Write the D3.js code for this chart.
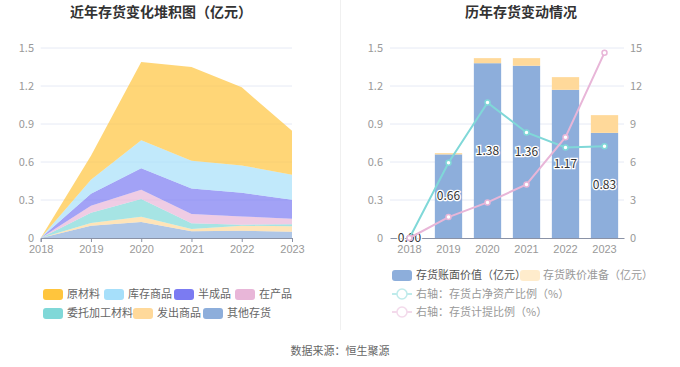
<!DOCTYPE html>
<html><head><meta charset="utf-8">
<script src="https://cdn.jsdelivr.net/npm/d3@7"></script>
<style>body{margin:0;background:#fff;}svg{display:block;font-family:"Noto Sans CJK SC","Noto Sans",sans-serif;}</style>
</head><body><svg id="c" width="680" height="367"></svg>
<script>
const years = ["2018","2019","2020","2021","2022","2023"];
const stackKeys = ["其他存货","发出商品","委托加工材料","在产品","半成品","库存商品","原材料"];
const otherInv   = [0, 0.097, 0.126, 0.053, 0.058, 0.050];
const shipped    = [0, 0.021, 0.042, 0.018, 0.039, 0.042];
const consigned  = [0, 0.082, 0.139, 0.045, 0.008, 0.016];
const wip        = [0, 0.055, 0.073, 0.074, 0.065, 0.044];
const semi       = [0, 0.095, 0.170, 0.200, 0.187, 0.150];
const goods      = [0, 0.110, 0.222, 0.220, 0.216, 0.198];
const raw        = [0, 0.190, 0.618, 0.740, 0.617, 0.346];
const bookValue  = [0, 0.66, 1.38, 1.36, 1.17, 0.83];
const reserve    = [0, 0.01, 0.04, 0.06, 0.10, 0.14];
const ratioNet   = [0, 5.94, 10.69, 8.33, 7.15, 7.25];
const ratioProv  = [0, 1.65, 2.81, 4.23, 7.96, 14.63];
const leftTicks = [0,0.3,0.6,0.9,1.2,1.5];
const rightTicks = [0,3,6,9,12,15];

const stackColors = {"原材料":"#FFC53D","库存商品":"#A6DFFA","半成品":"#7B7BF2","在产品":"#E8B6D8","委托加工材料":"#80D8D8","发出商品":"#FFD99A","其他存货":"#8DAEDB"};
const seriesArr = [otherInv,shipped,consigned,wip,semi,goods,raw];

const svg = d3.select("#c");
const tickColor = "#999", fs = 11;

// titles
svg.append("text").attr("x",161).attr("y",17).attr("text-anchor","middle").attr("font-size",14).attr("font-weight","bold").attr("fill","#333").text("近年存货变化堆积图（亿元）");
svg.append("text").attr("x",521).attr("y",17).attr("text-anchor","middle").attr("font-size",14).attr("font-weight","bold").attr("fill","#333").text("历年存货变动情况");
svg.append("line").attr("x1",340.5).attr("x2",340.5).attr("y1",0).attr("y2",330).attr("stroke","#f0f0f0");
svg.append("text").attr("x",340).attr("y",355).attr("text-anchor","middle").attr("font-size",11).attr("fill","#666").text("数据来源：恒生聚源");

// ---------- left chart ----------
const xL = d3.scalePoint().domain(years).range([40.7,292]);
const yL = d3.scaleLinear().domain([0,1.5]).range([238,48]);
const gL = svg.append("g");
leftTicks.forEach(t=>{
  if(t>0) gL.append("line").attr("x1",40.7).attr("x2",292).attr("y1",yL(t)).attr("y2",yL(t)).attr("stroke","#E6EAF5");
  gL.append("text").attr("x",34).attr("y",yL(t)+4).attr("text-anchor","end").attr("font-size",fs).attr("fill",tickColor).text(t);
});
const table = years.map((y,i)=>{const o={year:y}; stackKeys.forEach((k,j)=>o[k]=seriesArr[j][i]); return o;});
const stacked = d3.stack().keys(stackKeys)(table);
const area = d3.area().x(d=>xL(d.data.year)).y0(d=>yL(d[0])).y1(d=>yL(d[1]));
gL.selectAll("path.a").data(stacked).join("path").attr("d",area).attr("fill",d=>stackColors[d.key]).attr("fill-opacity",0.7);
const axL = gL.append("g").attr("transform","translate(0,238)").call(d3.axisBottom(xL).tickSize(4).tickPadding(3));
axL.select(".domain").attr("stroke","#8A92A6");
axL.selectAll(".tick line").attr("stroke","#8A92A6");
axL.selectAll("text").attr("font-size",fs).attr("fill",tickColor).attr("font-family","inherit");

// left legend
const legL = [["原材料",43,294],["库存商品",104,294],["半成品",174,294],["在产品",235,294],["委托加工材料",43,313],["发出商品",133,313],["其他存货",203,313]];
legL.forEach(([k,x,y])=>{
  svg.append("rect").attr("x",x).attr("y",y-5).attr("width",20).attr("height",11).attr("rx",3).attr("fill",stackColors[k]);
  svg.append("text").attr("x",x+24).attr("y",y+4).attr("font-size",fs).attr("fill","#666").text(k);
});

// ---------- right chart ----------
const xR = d3.scaleBand().domain(years).range([390,624]).paddingInner(0.3).paddingOuter(0.15);
const xC = d=>xR(d)+xR.bandwidth()/2;
const yR = d3.scaleLinear().domain([0,1.5]).range([238,48]);
const yR2 = d3.scaleLinear().domain([0,15]).range([238,48]);
const gR = svg.append("g");
leftTicks.forEach((t,i)=>{
  if(t>0) gR.append("line").attr("x1",390).attr("x2",624).attr("y1",yR(t)).attr("y2",yR(t)).attr("stroke","#E6EAF5");
  gR.append("text").attr("x",383).attr("y",yR(t)+4).attr("text-anchor","end").attr("font-size",fs).attr("fill",tickColor).text(t);
  gR.append("text").attr("x",630).attr("y",yR2(rightTicks[i])+4).attr("text-anchor","start").attr("font-size",fs).attr("fill",tickColor).text(rightTicks[i]);
});
years.forEach((y,i)=>{
  gR.append("rect").attr("x",xR(y)).attr("width",xR.bandwidth()).attr("y",yR(bookValue[i])).attr("height",yR(0)-yR(bookValue[i])).attr("fill","#8DAEDB");
  gR.append("rect").attr("x",xR(y)).attr("width",xR.bandwidth()).attr("y",yR(bookValue[i]+reserve[i])).attr("height",yR(0)-yR(reserve[i])).attr("fill","#FFD99A");
});
const axR = gR.append("g").attr("transform","translate(0,238)").call(d3.axisBottom(xR).tickSize(0).tickPadding(7));
axR.select(".domain").attr("stroke","#8A92A6");
axR.selectAll("text").attr("font-size",fs).attr("fill",tickColor).attr("font-family","inherit");
years.forEach((y,i)=>{
  gR.append("text").attr("x",xC(y)).attr("y",yR(bookValue[i]/2)+4).attr("text-anchor","middle").attr("font-size",12)
    .attr("fill","#333").attr("stroke","#fff").attr("stroke-width",2.5).attr("paint-order","stroke").text(bookValue[i].toFixed(2));
});
const line = d3.line().x((d,i)=>xC(years[i])).y(d=>yR2(d));
[[ratioNet,"#80D8D8"],[ratioProv,"#E8B6D8"]].forEach(([arr,c])=>{
  gR.append("path").attr("d",line(arr)).attr("fill","none").attr("stroke",c).attr("stroke-width",2);
  arr.forEach((v,i)=>gR.append("circle").attr("cx",xC(years[i])).attr("cy",yR2(v)).attr("r",2.5).attr("fill","#fff").attr("stroke",c).attr("stroke-width",1.5));
});

// right legend
svg.append("rect").attr("x",392).attr("y",270).attr("width",20).attr("height",11).attr("rx",3).attr("fill","#8DAEDB");
svg.append("text").attr("x",416).attr("y",279).attr("font-size",fs).attr("fill","#555").text("存货账面价值（亿元）");
svg.append("rect").attr("x",520).attr("y",270).attr("width",20).attr("height",11).attr("rx",3).attr("fill","#FFD99A").attr("opacity",0.5);
svg.append("text").attr("x",543).attr("y",279).attr("font-size",fs).attr("fill","#999").text("存货跌价准备（亿元）");
[["右轴：存货占净资产比例（%）","#80D8D8",294],["右轴：存货计提比例（%）","#E8B6D8",312]].forEach(([t,c,y])=>{
  const g = svg.append("g").attr("opacity",0.5);
  g.append("line").attr("x1",392).attr("x2",412).attr("y1",y).attr("y2",y).attr("stroke",c).attr("stroke-width",2);
  g.append("circle").attr("cx",402).attr("cy",y).attr("r",5).attr("fill","#fff").attr("stroke",c).attr("stroke-width",1.5);
  svg.append("text").attr("x",416).attr("y",y+4).attr("font-size",fs).attr("fill","#999").text(t);
});
</script></body></html>
